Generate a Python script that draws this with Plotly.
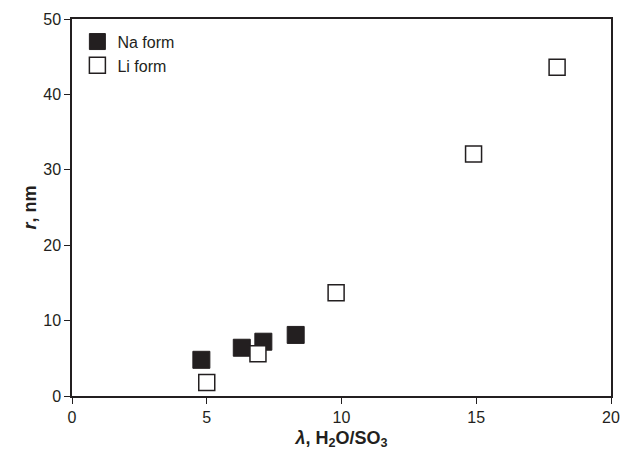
import plotly.graph_objects as go

na_x = [4.8, 6.3, 7.1, 8.3]
na_y = [4.8, 6.4, 7.2, 8.1]
li_x = [5.0, 6.9, 9.8, 14.9, 18.0]
li_y = [1.8, 5.6, 13.7, 32.1, 43.6]

fig = go.Figure()
fig.add_trace(go.Scatter(x=na_x, y=na_y, mode="markers", name="Na form",
                         marker=dict(symbol="square", size=17, color="#231f20",
                                     line=dict(color="#231f20", width=1))))
fig.add_trace(go.Scatter(x=li_x, y=li_y, mode="markers", name="Li form",
                         marker=dict(symbol="square", size=16, color="white",
                                     line=dict(color="#231f20", width=1.5))))

font = "Liberation Sans, Arial, sans-serif"
fig.update_layout(
    width=631, height=458,
    margin=dict(l=72, r=11, t=19, b=62),
    paper_bgcolor="white", plot_bgcolor="white",
    font=dict(family=font, size=16, color="#231f20"),
    showlegend=True,
    legend=dict(x=0.01, y=0.985, xanchor="left", yanchor="top",
                bgcolor="rgba(0,0,0,0)", font=dict(size=16), itemsizing="trace",
                tracegroupgap=4, itemwidth=30),
    xaxis=dict(range=[0, 20], tickvals=[0, 5, 10, 15, 20], ticks="outside", ticklen=6,
               tickcolor="#231f20", showline=True, linecolor="#231f20", linewidth=1.5,
               mirror=True, showgrid=False, zeroline=False,
               title=dict(text="<b><i>λ</i>, H<sub>2</sub>O/SO<sub>3</sub></b>",
                          font=dict(size=18), standoff=6)),
    yaxis=dict(range=[0, 50], tickvals=[0, 10, 20, 30, 40, 50], ticks="outside", ticklen=6,
               tickcolor="#231f20", showline=True, linecolor="#231f20", linewidth=1.5,
               mirror=True, showgrid=False, zeroline=False,
               title=dict(text="<b><i>r</i>, nm</b>", font=dict(size=18), standoff=2)),
)
fig.write_html("out.html")
